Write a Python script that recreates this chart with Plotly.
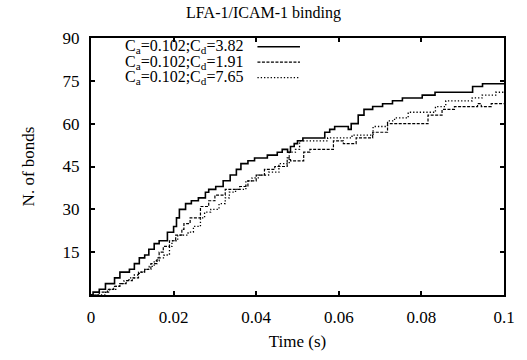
import plotly.graph_objects as go

# ---- data (time in s, number of bonds) ----
t_cd382 = [0, 0.0005, 0.002, 0.0035, 0.0057, 0.007, 0.0093, 0.0105, 0.0117, 0.013, 0.014,
           0.0153, 0.0165, 0.0185, 0.020, 0.0207, 0.0214, 0.0229, 0.0243, 0.026, 0.0277,
           0.0285, 0.0302, 0.032, 0.0337, 0.0352, 0.0363, 0.038, 0.0396, 0.0427, 0.0451,
           0.0463, 0.0476, 0.0483, 0.0492, 0.050, 0.0513, 0.0566, 0.0578, 0.059, 0.0623,
           0.063, 0.0647, 0.0661, 0.0682, 0.0706, 0.0730, 0.0754, 0.0802, 0.0833, 0.0924,
           0.0948, 0.1]
n_cd382 = [0, 1, 2, 4, 6, 8, 9, 11, 13, 14, 16,
           18, 19, 22, 24, 27, 30, 32, 33, 34, 36,
           37, 38, 40, 42, 44, 46, 47, 48, 49, 50,
           51, 50, 52, 53, 54, 55, 57, 58, 59, 58,
           60, 63, 65, 66, 67, 68, 69, 70, 71, 73,
           74, 74]

t_cd191 = [0, 0.002, 0.004, 0.0055, 0.007, 0.0085, 0.010, 0.0115, 0.013, 0.0145, 0.016,
           0.0165, 0.0175, 0.019, 0.0205, 0.022, 0.0225, 0.024, 0.0265, 0.0285, 0.030,
           0.0325, 0.036, 0.038, 0.040, 0.042, 0.0445, 0.0475, 0.0483, 0.0515, 0.0530,
           0.0587, 0.0611, 0.0642, 0.0682, 0.0718, 0.0816, 0.085, 0.088, 0.0936, 0.0945,
           0.0969, 0.1]
n_cd191 = [0, 1, 2, 3, 4, 5, 6, 8, 9, 11, 13,
           15, 17, 19, 21, 23, 25, 27, 31, 33, 35,
           37, 38, 40, 42, 44, 45, 48, 47, 50, 51,
           54, 53, 55, 57, 60, 63, 65, 66, 67, 66,
           67, 67]

t_cd765 = [0, 0.0035, 0.0045, 0.006, 0.0068, 0.008, 0.0092, 0.0105, 0.0117, 0.0129, 0.0141,
           0.0153, 0.0165, 0.0177, 0.019, 0.0196, 0.021, 0.0235, 0.0248, 0.0265, 0.0275,
           0.029, 0.031, 0.0325, 0.0335, 0.035, 0.0375, 0.039, 0.0405, 0.043, 0.0455,
           0.048, 0.0495, 0.0505, 0.0573, 0.0632, 0.0683, 0.0718, 0.0735, 0.0768, 0.0834,
           0.0859, 0.0923, 0.0947, 0.098, 0.1]
n_cd765 = [0, 1, 2, 3, 4, 5, 6, 7, 8, 9, 10,
           12, 13, 14, 17, 19, 21, 22, 24, 27, 29,
           30, 32, 34, 36, 37, 40, 41, 42, 43, 46,
           50, 51, 54, 55, 56, 59, 61, 62, 64, 66,
           68, 69, 70, 71, 71]

legend_labels = ["C<sub>a</sub>=0.102;C<sub>d</sub>=3.82",
                 "C<sub>a</sub>=0.102;C<sub>d</sub>=1.91",
                 "C<sub>a</sub>=0.102;C<sub>d</sub>=7.65"]

x_tickvals = [0, 0.02, 0.04, 0.06, 0.08, 0.1]
x_ticktext = ["0", "0.02", "0.04", "0.06", "0.08", "0.1"]
y_tickvals = [15, 30, 45, 60, 75, 90]

FONT = "Liberation Serif, Times New Roman, serif"

series = [
    (t_cd382, n_cd382, legend_labels[0], dict(color="black", width=1.6, dash="solid")),
    (t_cd191, n_cd191, legend_labels[1], dict(color="black", width=1.2, dash="3px,1.5px")),
    (t_cd765, n_cd765, legend_labels[2], dict(color="black", width=1.3, dash="1.3px,2px")),
]

fig = go.Figure()
for x, y, name, ln in series:
    fig.add_trace(go.Scatter(x=x, y=y, mode="lines", name=name, line=ln,
                             line_shape="hv", showlegend=False))

# gnuplot-style key: text, then line sample
row_y = [0.966, 0.906, 0.846]
for (x, y, name, ln), ry in zip(series, row_y):
    fig.add_annotation(x=0.37, y=ry, xref="paper", yref="paper", text=name,
                       showarrow=False, xanchor="right", yanchor="middle",
                       borderpad=0, font=dict(family=FONT, size=16, color="black"))
    fig.add_shape(type="line", xref="paper", yref="paper", x0=0.403, x1=0.506,
                  y0=ry, y1=ry, line=ln)

fig.update_layout(
    width=527, height=360,
    margin=dict(l=91, r=17, t=38, b=58),
    paper_bgcolor="white", plot_bgcolor="white",
    font=dict(family=FONT, size=16, color="black"),
    title=dict(text="LFA-1/ICAM-1 binding", x=0.5, xanchor="center",
               y=0.965, yanchor="middle", font=dict(family=FONT, size=16)),
)
fig.update_xaxes(range=[0, 0.1], tickvals=x_tickvals, ticktext=x_ticktext,
                 showgrid=False, zeroline=False, showline=True, linecolor="black",
                 linewidth=2, mirror="allticks", ticks="inside", ticklen=4,
                 tickwidth=2, tickcolor="black", ticklabelstandoff=6,
                 title=dict(text="Time (s)", font=dict(family=FONT, size=17), standoff=9),
                 tickfont=dict(family=FONT, size=17))
fig.update_yaxes(range=[0, 90], tickvals=y_tickvals,
                 showgrid=False, zeroline=False, showline=True, linecolor="black",
                 linewidth=2, mirror="allticks", ticks="inside", ticklen=4,
                 tickwidth=2, tickcolor="black", ticklabelstandoff=6,
                 title=dict(text="N. of bonds", font=dict(family=FONT, size=17), standoff=24),
                 tickfont=dict(family=FONT, size=17))

fig.write_html("out.html")
